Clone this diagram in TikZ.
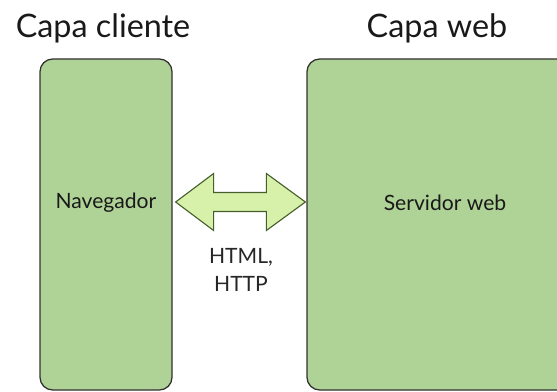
\documentclass[tikz,border=0pt]{standalone}
\usepackage{fontspec}
\setmainfont{Lato}
\usetikzlibrary{positioning,calc}
\definecolor{layergreen}{RGB}{175,210,150}
\definecolor{arrowgreen}{RGB}{216,241,170}
\definecolor{arrowline}{RGB}{70,95,45}
\definecolor{boxline}{RGB}{50,50,50}

\begin{document}
\begin{tikzpicture}[
    x=0.025cm, y=-0.025cm,
    layer/.style={rectangle, draw=boxline, fill=layergreen, line width=0.9pt, rounded corners=9pt, inner sep=0pt},
    title/.style={font=\fontsize{23}{27}\selectfont, text=black!90},
    boxlabel/.style={font=\fontsize{15}{18}\selectfont, text=black!90},
    proto/.style={font=\fontsize{15}{20}\selectfont, text=black!85, align=center},
    bigarrow/.style={draw=arrowline, fill=arrowgreen, line width=0.8pt, line join=miter}
]
\useasboundingbox (0,0) rectangle (557,392);
\clip (0,0) rectangle (557,392);

% Layer titles
\node[title] (tcliente) at (103,28) {Capa cliente};
\node[title] (tweb) at (437,28) {Capa web};

% Layers
\node[layer, minimum width=132*0.025cm, minimum height=331*0.025cm] (cliente) at (106,224.5) {};
\node[layer, minimum width=273*0.025cm, minimum height=331*0.025cm] (web) at (443.5,224.5) {};

\node[boxlabel] (nav) at (106,203) {Navegador};
\node[boxlabel] (serv) at (445,203) {Servidor web};

% Double arrow between the layers
\coordinate (tipL) at ($(cliente.east)+(3,-22.5)$);
\coordinate (tipR) at ($(web.west)+(-1,-22.5)$);
\draw[bigarrow] (tipL) -- ++(38,-28.5) -- ++(0,19) -- ($(tipR)+(-39,-9.5)$) -- ++(0,-19)
    -- (tipR) -- ++(-39,28.5) -- ++(0,-19) -- ($(tipL)+(38,9.5)$) -- ++(0,19) -- cycle;

\node[proto] (http) at (241,270) {HTML,\\HTTP};

\end{tikzpicture}
\end{document}
